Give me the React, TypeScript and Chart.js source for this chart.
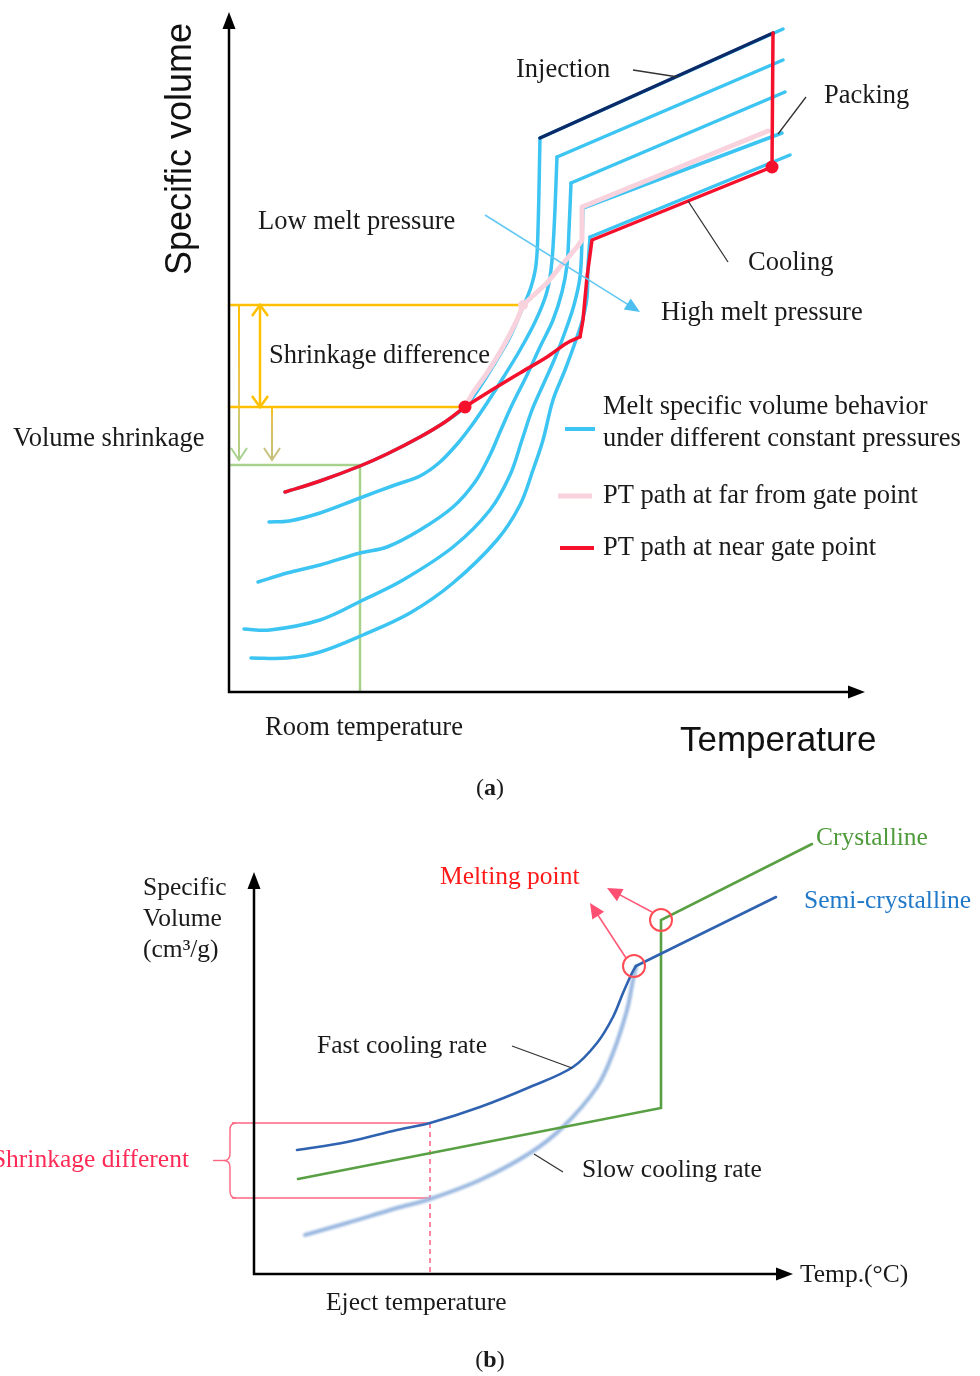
import { useEffect, useRef } from 'react';
import { Chart, registerables } from 'chart.js';

Chart.register(...registerables);

type Pt = [number, number];

const SERIF = '"Liberation Serif", "Times New Roman", serif';
const SANS = '"Liberation Sans", Arial, sans-serif';

// ---------- (a) PVT behaviour: temperature (x) vs specific volume (y), arbitrary units ----------
const tempMaxA = 63.6;
const volMaxA = 68;

// Isobars, lowest pressure first. The last two points of each form the melt line.
const isobar1: Pt[] = [[5.6, 20.0], [9.1, 21.1], [13.1, 22.6], [15.8, 23.8], [19.1, 25.5], [21.6, 27.0], [23.6, 28.5], [25.1, 30.5], [26.6, 32.9], [28.1, 35.5], [29.4, 38.5], [30.2, 40.5], [30.7, 42.7], [30.9, 46.2], [31.1, 55.4], [55.4, 66.3]];
const isobar2: Pt[] = [[4.0, 17.0], [6.0, 17.1], [9.1, 17.9], [13.1, 19.4], [16.6, 20.7], [19.1, 21.6], [21.1, 23.0], [22.9, 24.9], [24.3, 26.7], [25.8, 28.9], [27.4, 31.4], [29.1, 34.2], [30.6, 37.0], [31.7, 39.7], [32.2, 42.2], [32.5, 46.2], [32.8, 53.5], [55.4, 63.2]];
const isobar3: Pt[] = [[2.9, 11.0], [5.8, 11.9], [9.1, 12.7], [13.1, 13.9], [15.8, 14.5], [19.1, 16.2], [22.4, 18.5], [24.6, 21.0], [26.1, 23.7], [27.1, 26.0], [28.3, 28.7], [29.8, 31.7], [31.1, 34.5], [32.4, 37.2], [33.3, 40.0], [33.8, 42.7], [34.0, 46.2], [34.2, 50.9], [55.6, 60.0]];
const isobar4: Pt[] = [[1.5, 6.3], [4.1, 6.2], [9.1, 7.2], [13.4, 9.2], [17.4, 11.2], [22.4, 14.5], [26.1, 18.2], [28.1, 21.7], [29.3, 25.2], [30.3, 28.2], [31.4, 30.7], [32.6, 33.4], [33.6, 36.0], [34.5, 38.7], [35.1, 41.5], [35.3, 45.2], [35.4, 48.4], [55.3, 55.9]];
const isobar5: Pt[] = [[2.2, 3.4], [5.8, 3.4], [9.1, 4.0], [13.4, 5.7], [18.1, 7.9], [22.4, 10.9], [26.8, 15.2], [29.1, 18.7], [30.4, 22.2], [31.4, 25.2], [32.4, 29.2], [33.6, 32.2], [34.7, 35.2], [35.4, 37.4], [35.8, 39.5], [35.9, 42.5], [36.1, 45.5], [56.1, 53.7]];
const isobars = [isobar1, isobar2, isobar3, isobar4, isobar5];

const injectionEnd: Pt = [54.4, 65.9];
const packingEnd: Pt = [54.3, 52.5];
const nearGatePoint: Pt = [23.6, 28.5];
const farGatePoint: Pt = [29.4, 38.7];

// PT path near the gate: packing, cooling, then release onto the ambient isobar
const nearGatePath: Pt[] = [injectionEnd, packingEnd, [36.3, 45.2], [35.8, 41.5], [35.4, 37.2], [35.1, 35.5], [33.8, 34.9], [31.8, 33.5], [29.1, 31.9], [25.8, 29.9], nearGatePoint, [21.6, 27.0], [19.1, 25.5], [15.8, 23.8], [13.1, 22.6], [9.1, 21.1], [5.6, 20.0]];
const nearGateCorner = 5;
// PT path far from the gate
const farGatePath: Pt[] = [[53.9, 56.1], [35.3, 48.5], [35.3, 45.2], [34.8, 44.5], [33.1, 42.5], [31.8, 40.9], farGatePoint, [28.8, 37.2], [27.4, 34.5], [25.8, 31.9], [24.4, 29.9], nearGatePoint];

const roomTemp = 13.1;
const roomVolume = 22.7;
const pressureArrow: Pt[] = [[25.6, 47.7], [41.1, 38.0]];

// ---------- (b) crystalline vs semi-crystalline ----------
const tempMaxB = 53.9;
const volMaxB = 40.2;

const crystalline: Pt[] = [[4.4, 9.5], [40.7, 16.6], [40.7, 35.4], [55.8, 43.0]];
const fastCooling: Pt[] = [[4.3, 12.4], [9.3, 13.2], [14.3, 14.4], [17.6, 15.1], [22.6, 16.7], [27.6, 18.7], [31.9, 20.7], [34.3, 23.1], [35.9, 25.7], [36.9, 28.1], [37.8, 30.1], [38.2, 30.8], [52.2, 37.7]];
const slowCooling: Pt[] = [[5.1, 3.9], [9.3, 5.1], [14.3, 6.6], [17.6, 7.5], [22.6, 9.4], [27.6, 12.1], [30.9, 14.7], [34.3, 18.7], [35.9, 22.1], [37.3, 26.4], [37.9, 29.4], [38.2, 30.7]];

const ejectTemp = 17.6;
const shrinkHigh = 15.1;
const shrinkLow = 7.6;
const bracketLeft = -2.2;
const meltPoints: Pt[] = [[40.7, 35.4], [38.0, 30.8]];
const meltArrows: Pt[][] = [[[39.8, 36.2], [35.3, 38.6]], [[37.2, 31.6], [33.6, 37.1]]];

// ---------- colours ----------
const BLUE = '#3cc4f2';
const NAVY = '#0c2a68';
const RED = '#f5102c';
const PINK = '#f8d3dd';
const ORANGE = '#ffc000';
const GREEN = '#a9d18e';
const INK = '#1a1a1a';

const xy = (pts: Pt[]) => pts.map(([x, y]) => ({ x, y }));

function path(pts: Pt[], color: string, width: number, tension: number, order: number, extra: any = {}) {
  return {
    data: xy(pts),
    showLine: true,
    borderColor: color,
    backgroundColor: color,
    borderWidth: width,
    pointRadius: 0,
    tension,
    clip: false,
    order,
    borderCapStyle: 'round',
    borderJoinStyle: 'round',
    ...extra,
  };
}

function dots(pts: Pt[], color: string, radius: number, order: number) {
  return {
    data: xy(pts),
    showLine: false,
    pointRadius: radius,
    pointBackgroundColor: color,
    pointBorderWidth: 0,
    clip: false,
    order,
  };
}

function seg(ctx: any, a: number[], b: number[], color: any, width: number, dash: number[] = []) {
  ctx.save();
  ctx.beginPath();
  ctx.setLineDash(dash);
  ctx.moveTo(a[0], a[1]);
  ctx.lineTo(b[0], b[1]);
  ctx.strokeStyle = color;
  ctx.lineWidth = width;
  ctx.stroke();
  ctx.restore();
}

function headPts(from: number[], to: number[], len: number, half: number) {
  const a = Math.atan2(to[1] - from[1], to[0] - from[0]);
  const c = Math.cos(a);
  const s = Math.sin(a);
  return [
    [to[0] - len * c - half * s, to[1] - len * s + half * c],
    [to[0] - len * c + half * s, to[1] - len * s - half * c],
  ];
}

function headFilled(ctx: any, from: number[], to: number[], len: number, half: number, color: string) {
  const [p1, p2] = headPts(from, to, len, half);
  ctx.beginPath();
  ctx.moveTo(to[0], to[1]);
  ctx.lineTo(p1[0], p1[1]);
  ctx.lineTo(p2[0], p2[1]);
  ctx.closePath();
  ctx.fillStyle = color;
  ctx.fill();
}

function headOpen(ctx: any, from: number[], to: number[], len: number, half: number, color: any, width: number) {
  const [p1, p2] = headPts(from, to, len, half);
  ctx.beginPath();
  ctx.moveTo(p1[0], p1[1]);
  ctx.lineTo(to[0], to[1]);
  ctx.lineTo(p2[0], p2[1]);
  ctx.strokeStyle = color;
  ctx.lineWidth = width;
  ctx.lineJoin = 'miter';
  ctx.stroke();
}

function text(ctx: any, s: string, x: number, y: number, font: string, color = INK, align = 'left') {
  ctx.font = font;
  ctx.fillStyle = color;
  ctx.textAlign = align;
  ctx.textBaseline = 'middle';
  ctx.fillText(s, x, y);
}

function panelLabel(ctx: any, letter: string, cx: number, y: number, size: number) {
  const parts: [string, boolean][] = [['(', false], [letter, true], [')', false]];
  const widths = parts.map(([t, b]) => {
    ctx.font = `${b ? 'bold ' : ''}${size}px ${SERIF}`;
    return ctx.measureText(t).width;
  });
  let x = cx - widths.reduce((a, b) => a + b, 0) / 2;
  parts.forEach(([t, b], i) => {
    text(ctx, t, x, y, `${b ? 'bold ' : ''}${size}px ${SERIF}`);
    x += widths[i];
  });
}

function axes(ctx: any, ca: any) {
  ctx.save();
  ctx.strokeStyle = '#000';
  ctx.lineWidth = 2.5;
  ctx.beginPath();
  ctx.moveTo(ca.left, ca.top + 12);
  ctx.lineTo(ca.left, ca.bottom);
  ctx.lineTo(ca.right - 12, ca.bottom);
  ctx.stroke();
  headFilled(ctx, [ca.left, ca.bottom], [ca.left, ca.top], 17, 6.5, '#000');
  headFilled(ctx, [ca.left, ca.bottom], [ca.right, ca.bottom], 17, 6.5, '#000');
  ctx.restore();
}

const baseOptions = (xMax: number, yMax: number, padding: any) => ({
  responsive: false,
  maintainAspectRatio: false,
  animation: false,
  devicePixelRatio: 1,
  events: [],
  layout: { padding },
  plugins: { legend: { display: false }, tooltip: { enabled: false }, title: { display: false } },
  scales: {
    x: { type: 'linear', min: 0, max: xMax, display: false },
    y: { type: 'linear', min: 0, max: yMax, display: false },
  },
});

// ---------- decorations for (a) ----------
const pvtDecor = {
  id: 'pvtDecor',
  beforeDatasetsDraw(chart: any) {
    const { ctx, scales } = chart;
    const P = (p: Pt) => [scales.x.getPixelForValue(p[0]), scales.y.getPixelForValue(p[1])];
    ctx.save();
    // shrinkage difference (double arrow)
    const a1 = P([3.1, farGatePoint[1]]);
    const a2 = P([3.1, nearGatePoint[1]]);
    seg(ctx, a1, a2, ORANGE, 2.5);
    headOpen(ctx, a2, a1, 11, 8, ORANGE, 2.5);
    headOpen(ctx, a1, a2, 11, 8, ORANGE, 2.5);
    // volume shrinkage arrows down to the room-temperature level
    const drops: Pt[][] = [[[1.0, farGatePoint[1]], [1.0, roomVolume + 0.5]], [[4.3, nearGatePoint[1]], [4.3, roomVolume + 0.5]]];
    drops.forEach(([from, to], i) => {
      const f = P(from);
      const t = P(to);
      const g = ctx.createLinearGradient(0, f[1], 0, t[1]);
      g.addColorStop(0, ORANGE);
      g.addColorStop(i === 0 ? 0.55 : 0.2, i === 0 ? '#e8c45a' : '#e3bf55');
      g.addColorStop(1, i === 0 ? GREEN : '#c4c27a');
      seg(ctx, f, t, g, 2);
      headOpen(ctx, f, t, 12, 8, i === 0 ? GREEN : '#c9c07a', 2);
    });
    ctx.restore();
  },
  afterDatasetsDraw(chart: any) {
    const { ctx, chartArea: ca, scales } = chart;
    const P = (p: Pt) => [scales.x.getPixelForValue(p[0]), scales.y.getPixelForValue(p[1])];
    ctx.save();
    axes(ctx, ca);

    // pressure direction arrow
    const pa = P(pressureArrow[0]);
    const pb = P(pressureArrow[1]);
    const [h1] = headPts(pa, pb, 14, 0);
    seg(ctx, pa, h1, '#62c7f2', 1.5);
    headFilled(ctx, pa, pb, 15, 6.5, '#4cbff0');

    // callout leaders
    seg(ctx, P([40.4, 62.2]), P([44.9, 61.5]), '#333', 1.3);
    seg(ctx, P([57.7, 59.5]), P([54.9, 55.8]), '#333', 1.3);
    seg(ctx, P([49.9, 43.0]), P([45.9, 49.1]), '#333', 1.3);

    // legend swatches
    seg(ctx, [565, 429], [595, 429], BLUE, 4);
    seg(ctx, [558, 496], [592, 496], PINK, 5);
    seg(ctx, [560, 548], [594, 548], RED, 4);

    const F = `26.5px ${SERIF}`;
    text(ctx, 'Injection', 516, 70, F);
    text(ctx, 'Packing', 824, 96, F);
    text(ctx, 'Low melt pressure', 258, 222, F);
    text(ctx, 'Cooling', 748, 263, F);
    text(ctx, 'High melt pressure', 661, 313, F);
    text(ctx, 'Shrinkage difference', 269, 356, F);
    text(ctx, 'Volume shrinkage', 13, 439, F);
    text(ctx, 'Melt specific volume behavior', 603, 407, F);
    text(ctx, 'under different constant pressures', 603, 439, F);
    text(ctx, 'PT path at far from gate point', 603, 496, F);
    text(ctx, 'PT path at near gate point', 603, 548, F);
    text(ctx, 'Room temperature', 265, 728, F);
    text(ctx, 'Temperature', 680, 741, `35px ${SANS}`, '#111');

    ctx.save();
    ctx.translate(181, 149);
    ctx.rotate(-Math.PI / 2);
    text(ctx, 'Specific volume', 0, 0, `36px ${SANS}`, '#111', 'center');
    ctx.restore();

    panelLabel(ctx, 'a', 490, 789, 24);
    ctx.restore();
  },
};

// ---------- decorations for (b) ----------
const crystDecor = {
  id: 'crystDecor',
  beforeDatasetDraw(chart: any, args: any) {
    if (chart.data.datasets[args.index].label === 'slow') {
      chart.ctx.save();
      chart.ctx.filter = 'blur(0.8px)';
    }
  },
  afterDatasetDraw(chart: any, args: any) {
    if (chart.data.datasets[args.index].label === 'slow') chart.ctx.restore();
  },
  afterDatasetsDraw(chart: any) {
    const { ctx, chartArea: ca, scales } = chart;
    const P = (p: Pt) => [scales.x.getPixelForValue(p[0]), scales.y.getPixelForValue(p[1])];
    ctx.save();
    axes(ctx, ca);

    // shrinkage bracket
    const top = P([bracketLeft, shrinkHigh]);
    const bot = P([bracketLeft, shrinkLow]);
    const bx = top[0] - 2;
    const mid = (top[1] + bot[1]) / 2;
    ctx.beginPath();
    ctx.moveTo(top[0] + 4, top[1]);
    ctx.quadraticCurveTo(bx, top[1], bx, top[1] + 7);
    ctx.lineTo(bx, mid - 7);
    ctx.quadraticCurveTo(bx, mid, bx - 6, mid);
    ctx.quadraticCurveTo(bx, mid, bx, mid + 7);
    ctx.lineTo(bx, bot[1] - 7);
    ctx.quadraticCurveTo(bx, bot[1], top[0] + 4, bot[1]);
    ctx.strokeStyle = '#ff6680';
    ctx.lineWidth = 1.4;
    ctx.stroke();
    seg(ctx, [bx - 6, mid], [bx - 17, mid], '#ff6680', 1.4);

    // melting points
    meltPoints.forEach((p) => {
      const c = P(p);
      ctx.beginPath();
      ctx.arc(c[0], c[1], 11, 0, Math.PI * 2);
      ctx.strokeStyle = '#ff4d55';
      ctx.lineWidth = 2;
      ctx.stroke();
    });
    meltArrows.forEach(([a, b]) => {
      const f = P(a);
      const t = P(b);
      const [h1] = headPts(f, t, 12, 0);
      seg(ctx, f, h1, '#ff5a78', 1.6);
      headFilled(ctx, f, t, 15, 7, '#ff4f72');
    });

    // callout leaders
    seg(ctx, P([25.8, 22.8]), P([31.8, 20.6]), '#333', 1.3);
    seg(ctx, P([28.0, 12.0]), P([30.9, 10.2]), '#333', 1.3);

    const F = `25.5px ${SERIF}`;
    text(ctx, 'Specific', 143, 88, F);
    text(ctx, 'Volume', 143, 119, F);
    text(ctx, '(cm³/g)', 143, 150, F);
    text(ctx, 'Melting point', 440, 77, F, '#ff1a1a');
    text(ctx, 'Crystalline', 816, 38, F, '#4f9a3a');
    text(ctx, 'Semi-crystalline', 804, 101, F, '#1f78c8');
    text(ctx, 'Fast cooling rate', 317, 246, F);
    text(ctx, 'Slow cooling rate', 582, 370, F);
    text(ctx, 'Shrinkage different', 189, 360, F, '#ff2a55', 'right');
    text(ctx, 'Temp.(°C)', 800, 475, F);
    text(ctx, 'Eject temperature', 326, 503, F);
    panelLabel(ctx, 'b', 490, 561, 24);
    ctx.restore();
  },
};

function pvtConfig(): any {
  const datasets: any[] = [];
  isobars.forEach((iso) => {
    datasets.push(path(iso.slice(0, -1), BLUE, 3.5, 0.35, 10));
    datasets.push(path(iso.slice(-2), BLUE, 3.5, 0, 10));
  });
  datasets.push(path([isobar1[isobar1.length - 2], injectionEnd], NAVY, 3.5, 0, 6));
  datasets.push(path([[0, farGatePoint[1]], farGatePoint], ORANGE, 2.5, 0, 20));
  datasets.push(path([[0, nearGatePoint[1]], nearGatePoint], ORANGE, 2.5, 0, 20));
  datasets.push(path([[0, roomVolume], [roomTemp, roomVolume], [roomTemp, 0]], GREEN, 2.5, 0, 20, { borderCapStyle: 'butt', borderJoinStyle: 'miter' }));
  datasets.push(path(farGatePath.slice(0, 7), PINK, 5, 0, 5));
  datasets.push(path(farGatePath.slice(6), PINK, 5, 0.3, 5));
  datasets.push(dots([farGatePoint], PINK, 5, 4));
  datasets.push(path(nearGatePath.slice(0, nearGateCorner + 1), RED, 3.5, 0, 3));
  datasets.push(path(nearGatePath.slice(nearGateCorner), RED, 3.5, 0.35, 3));
  datasets.push(dots([packingEnd, nearGatePoint], RED, 6.5, 1));
  return {
    type: 'scatter',
    data: { datasets },
    options: baseOptions(tempMaxA, volMaxA, { left: 229, right: 115, top: 12, bottom: 108 }),
    plugins: [pvtDecor],
  };
}

function crystConfig(): any {
  const datasets: any[] = [
    path([[bracketLeft, shrinkHigh], [ejectTemp, shrinkHigh]], '#ff6680', 1.4, 0, 20, { borderCapStyle: 'butt' }),
    path([[bracketLeft, shrinkLow], [ejectTemp, shrinkLow]], '#ff6680', 1.4, 0, 20, { borderCapStyle: 'butt' }),
    path([[ejectTemp, shrinkHigh], [ejectTemp, 0]], '#ff5577', 1.4, 0, 20, { borderDash: [5, 4], borderCapStyle: 'butt' }),
    { ...path(slowCooling, '#9ab8e0', 4, 0.35, 8), label: 'slow' },
    path(crystalline, '#58a043', 2.6, 0, 6, { borderJoinStyle: 'miter' }),
    path(fastCooling.slice(0, -1), '#2f62b0', 2.6, 0.35, 5),
    path(fastCooling.slice(-2), '#2f62b0', 2.6, 0, 5),
  ];
  return {
    type: 'scatter',
    data: { datasets },
    options: baseOptions(tempMaxB, volMaxB, { left: 254, right: 187, top: 72, bottom: 102 }),
    plugins: [crystDecor],
  };
}

export default function App() {
  const aRef = useRef<HTMLCanvasElement>(null);
  const bRef = useRef<HTMLCanvasElement>(null);

  useEffect(() => {
    const ca = new Chart(aRef.current as HTMLCanvasElement, pvtConfig());
    const cb = new Chart(bRef.current as HTMLCanvasElement, crystConfig());
    return () => {
      ca.destroy();
      cb.destroy();
    };
  }, []);

  return (
    <div style={{ position: 'absolute', left: 0, top: 0, width: 980, height: 1376, background: '#fff' }}>
      <canvas ref={aRef} width={980} height={800} style={{ position: 'absolute', left: 0, top: 0, width: 980, height: 800 }} />
      <canvas ref={bRef} width={980} height={576} style={{ position: 'absolute', left: 0, top: 800, width: 980, height: 576 }} />
    </div>
  );
}
